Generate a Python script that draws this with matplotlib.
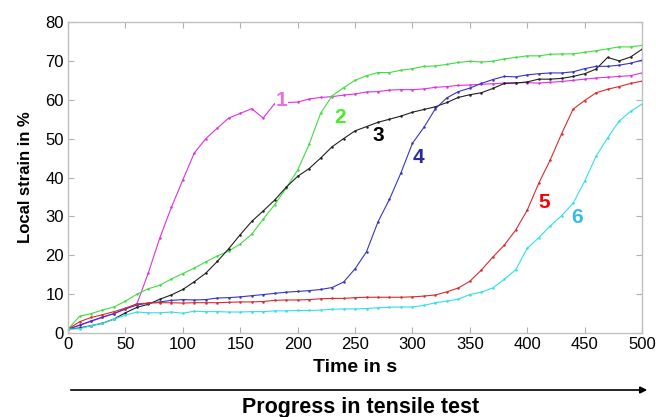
import numpy as np
import matplotlib
matplotlib.use('Agg')
import matplotlib.pyplot as plt

plt.rcParams['font.family'] = ['Liberation Sans', 'DejaVu Sans']

# time axis, one reading every 10 s
time_s = list(range(0, 510, 10))

# local strain in %
strain_1 = [1.0, 2.0, 3.0, 4.0, 5.0, 6.2, 7.5, 15.5, 24.5, 32.3, 39.4, 46.3, 50.0, 52.7, 55.3, 56.5,
            57.7, 55.3, 59.0, 59.3, 59.4, 60.2, 60.6, 60.8, 61.2, 61.5, 62.0, 62.1, 62.5, 62.6, 62.6,
            62.8, 63.2, 63.4, 63.7, 63.8, 64.0, 64.1, 64.3, 64.4, 64.4, 64.3, 64.5, 64.7, 65.0, 65.3,
            65.6, 65.8, 66.0, 66.2, 66.9]
strain_2 = [1.0, 4.3, 5.0, 5.9, 6.7, 8.2, 10.0, 11.4, 12.3, 13.9, 15.3, 16.7, 18.3, 19.8, 21.1, 22.9,
            25.4, 29.3, 33.0, 37.3, 41.9, 48.5, 56.5, 61.0, 63.1, 65.0, 66.2, 67.0, 67.0, 67.6, 68.0,
            68.6, 68.7, 69.1, 69.6, 69.9, 69.7, 69.9, 70.5, 70.9, 71.3, 71.3, 71.7, 71.8, 71.8, 72.2,
            72.6, 73.1, 73.6, 73.6, 74.0]
strain_3 = [1.0, 1.3, 1.9, 2.5, 3.6, 5.2, 6.6, 7.4, 8.7, 9.8, 11.2, 13.2, 15.4, 18.4, 21.7, 25.3,
            28.7, 31.4, 34.2, 37.5, 40.3, 42.3, 45.0, 47.9, 50.0, 52.0, 53.1, 54.2, 55.0, 55.8, 56.8,
            57.5, 58.2, 59.3, 60.6, 61.3, 61.8, 62.9, 64.2, 64.3, 64.6, 65.3, 65.3, 65.5, 66.0, 66.7,
            67.9, 70.9, 70.0, 71.0, 73.0]
strain_4 = [1.0, 2.0, 3.1, 4.1, 5.0, 6.2, 7.2, 7.7, 8.0, 8.4, 8.6, 8.5, 8.6, 9.0, 9.1, 9.3,
            9.6, 9.9, 10.2, 10.5, 10.7, 10.9, 11.2, 11.7, 13.1, 16.5, 20.9, 28.6, 34.4, 41.2, 48.8,
            52.9, 57.7, 60.5, 62.1, 63.0, 64.2, 65.2, 66.0, 65.9, 66.4, 66.7, 66.9, 66.9, 67.2, 68.0,
            68.6, 68.6, 68.9, 69.4, 70.2]
strain_5 = [1.0, 2.9, 4.0, 4.7, 5.5, 6.4, 7.5, 7.7, 7.8, 7.8, 7.7, 7.8, 7.8, 7.8, 7.9, 8.0,
            8.0, 8.1, 8.4, 8.5, 8.5, 8.6, 8.8, 8.9, 8.9, 9.1, 9.2, 9.2, 9.2, 9.2, 9.3,
            9.5, 9.8, 10.6, 11.6, 13.3, 16.2, 19.5, 22.6, 26.5, 31.6, 38.5, 44.5, 51.3, 57.6, 59.8,
            61.8, 62.7, 63.4, 64.2, 64.8]
strain_6 = [1.0, 1.1, 1.9, 2.5, 3.6, 4.6, 5.4, 5.2, 5.2, 5.4, 5.1, 5.6, 5.5, 5.5, 5.4, 5.4,
            5.5, 5.5, 5.7, 5.7, 5.8, 5.8, 5.9, 6.1, 6.2, 6.2, 6.3, 6.5, 6.6, 6.7, 6.7,
            7.1, 7.8, 8.2, 8.7, 9.9, 10.5, 11.6, 13.8, 16.3, 21.8, 24.5, 27.5, 30.2, 33.4, 39.0,
            45.5, 50.2, 54.5, 57.0, 58.9]

curve_names = ['1', '2', '3', '4', '5', '6']
label_t = [186, 237, 270, 305, 415, 443]
label_v = [59.9, 55.5, 50.9, 45.2, 33.7, 29.6]

line_colors = ['#e030e0', '#40dd40', '#202020', '#3535c8', '#dd2a2a', '#30e0e8']
text_colors = ['#ee6ed8', '#44ee22', '#000000', '#2b2b9b', '#ff0000', '#33bbee']

fig = plt.figure(figsize=(6.56, 4.17), dpi=100)
ax = fig.add_axes([0.1037, 0.2014, 0.875, 0.7458])

all_series = [strain_1, strain_2, strain_3, strain_4, strain_5, strain_6]
for i, s in enumerate(all_series):
    ax.plot(time_s, s, color=line_colors[i], lw=0.8, marker='o', ms=1.8, mew=0)

for i, name in enumerate(curve_names):
    ax.text(label_t[i], label_v[i], name, color=text_colors[i], fontsize=15, fontweight='bold',
            ha='center', va='center', zorder=5,
            bbox=dict(facecolor='white', edgecolor='none', pad=0.5))

ax.set_xlim(0, 500)
ax.set_ylim(0, 80)
ax.set_xticks(np.arange(0, 501, 50))
ax.set_yticks(np.arange(0, 81, 10))
ax.tick_params(direction='in', length=4, width=0.8, color='#b0b0b0', labelsize=12, pad=3,
               top=True, right=True)
for sp in ax.spines.values():
    sp.set_color('#c0c0c0')
    sp.set_linewidth(1.0)

ax.set_ylabel('Local strain in %', fontsize=12, fontweight='bold', labelpad=9)
ax.set_xlabel('Time in s', fontsize=14, fontweight='bold', labelpad=5)

# progress arrow under the x axis
fig.patches.append(matplotlib.patches.FancyArrowPatch((68 / 656, 1 - 390 / 417), (650 / 656, 1 - 390 / 417),
                                                      transform=fig.transFigure, arrowstyle='-|>',
                                                      mutation_scale=10, lw=1.2, color='black'))
fig.text(361 / 656, 1 - 408 / 417, 'Progress in tensile test', fontsize=15.5, fontweight='bold',
         ha='center', va='center')

fig.savefig('out.png', dpi=100)
